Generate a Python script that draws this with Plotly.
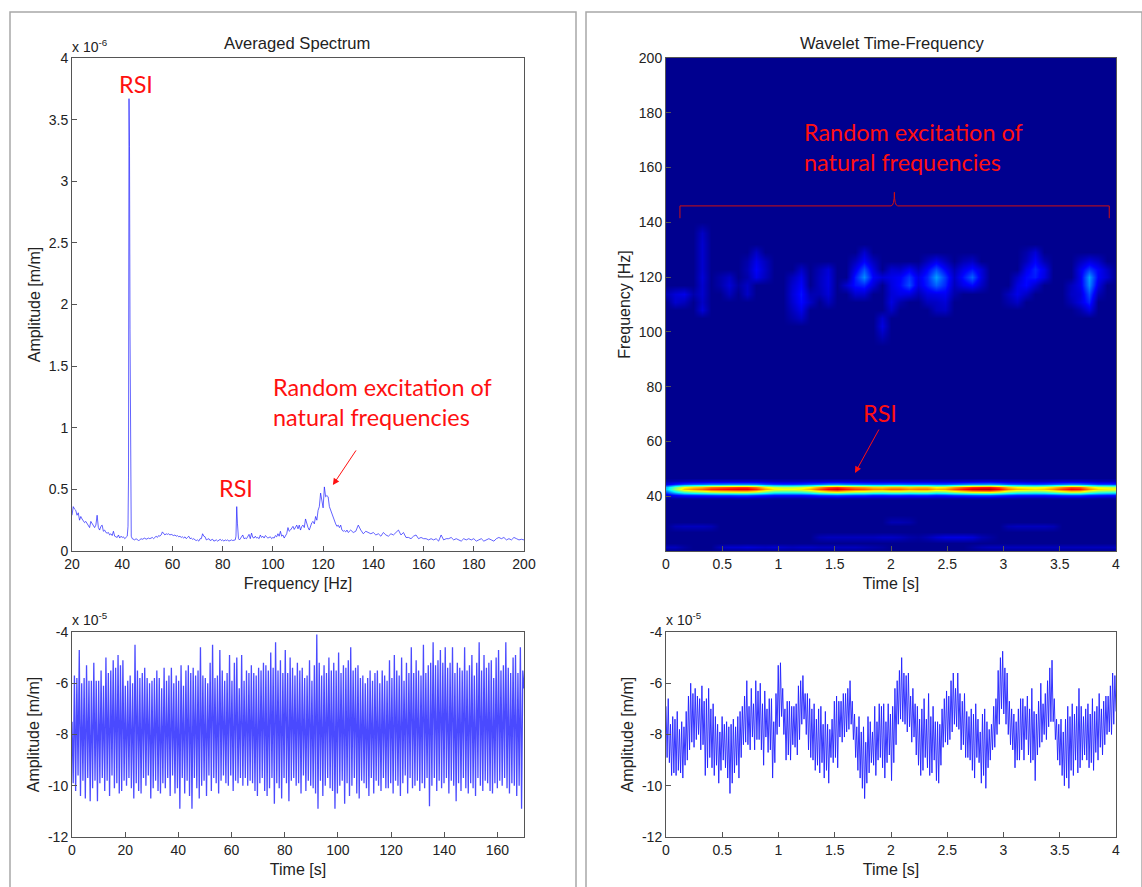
import plotly.graph_objects as go

# ---------- Averaged spectrum (units of 1e-6 m/m) ----------
SPEC_F_LOW = [20,20.5,21,21.5,22,22.5,23,23.5,24,24.5,25,25.5,26,26.5,27,27.5,28,28.5,29,29.5,30,30.5,31,31.5,32,32.5,33,33.5,34,34.5,35,35.5,36,36.5,37,37.5,38,38.5,39,39.5,40,40.5,41,41.5,42,42.3,42.5,42.7,42.9,43.1,43.3,43.6]
SPEC_A_LOW = [.29,.36,.34,.33,.29,.31,.25,.28,.26,.24,.23,.24,.22,.21,.19,.24,.22,.20,.19,.21,.29,.19,.17,.20,.21,.16,.17,.15,.145,.15,.13,.14,.125,.16,.12,.115,.11,.13,.105,.12,.11,.115,.10,.11,.12,.2,.6,3.67,3.28,1.8,.42,.12]
SPEC_F_MID = [44,44.5,45,45.5,46,46.5,47,47.5,48,48.5,49,49.5,50,50.5,51,51.5,52,52.5,53,53.5,54,54.5,55,55.5,56,56.5,57,57.5,58,58.5,59,59.5,60,60.5,61,61.5,62,62.5,63,63.5,64,64.5,65,65.5,66,66.5,67,67.5,68,68.5,69,69.5,70,70.5,71,71.5,72,72.5,73,73.5,74,74.5,75,75.5,76,76.5,77,77.5,78,78.5,79,79.5,80,80.5,81,81.5,82,82.5,83,83.5,84,84.5,85,85.3,85.6,85.9,86.3,86.7,87,87.5,88,88.5,89,89.5,90,90.5,91,91.5,92,92.5,93,93.5,94,94.5,95,95.5,96,96.5,97,97.5,98,98.5,99,99.5,100,100.5,101,101.5,102,102.5,103,103.5,104,104.5,105,105.5,106,106.5,107,107.5,108,108.5,109,109.5,110,110.5,111,111.5,112,112.5,113,113.5,114,114.5,115,115.5,116,116.5,117,117.5,118,118.5,119,119.5,120,120.5,121,121.5,122,122.5,123,123.5,124,124.5,125,125.5,126,126.5,127,127.5,128,128.5,129,129.5,130]
SPEC_A_MID = [.10,.095,.09,.10,.095,.085,.09,.10,.095,.10,.105,.095,.10,.105,.10,.105,.11,.10,.11,.12,.11,.125,.12,.13,.155,.14,.13,.14,.135,.14,.13,.135,.13,.125,.13,.12,.125,.115,.12,.11,.115,.105,.115,.10,.11,.12,.10,.105,.095,.10,.09,.085,.09,.08,.10,.10,.14,.12,.115,.09,.095,.10,.085,.09,.095,.08,.085,.09,.08,.09,.095,.085,.09,.08,.09,.085,.09,.08,.085,.09,.085,.09,.09,.12,.36,.22,.10,.09,.10,.11,.13,.10,.105,.10,.12,.135,.10,.145,.11,.105,.12,.105,.11,.10,.13,.11,.12,.105,.125,.11,.105,.11,.115,.10,.11,.105,.125,.115,.14,.12,.16,.12,.13,.105,.12,.14,.19,.16,.17,.19,.20,.175,.19,.21,.18,.21,.17,.20,.21,.19,.26,.22,.19,.17,.21,.23,.24,.22,.28,.25,.33,.36,.47,.40,.35,.52,.44,.45,.44,.36,.33,.30,.28,.25,.22,.20,.21,.19,.21,.17,.16,.165,.155,.17,.15]
SPEC_F_HIGH = [131,132,133,134,135,136,137,138,139,140,141,142,143,144,145,146,147,148,149,150,151,152,153,154,155,156,157,158,159,160,161,162,163,164,165,166,167,168,169,170,171,172,173,174,175,176,177,178,179,180,181,182,183,184,185,186,187,188,189,190,191,192,193,194,195,196,197,198,199,200]
SPEC_A_HIGH = [.17,.15,.16,.21,.17,.14,.16,.15,.14,.15,.13,.14,.12,.15,.13,.12,.14,.13,.15,.17,.13,.15,.11,.11,.10,.12,.13,.10,.11,.10,.10,.09,.10,.09,.10,.08,.13,.09,.10,.10,.11,.09,.10,.09,.08,.10,.09,.10,.09,.10,.08,.09,.10,.08,.09,.10,.09,.08,.10,.11,.10,.11,.09,.10,.09,.11,.10,.09,.095,.09]

# ---------- Long time signal, left (units of 1e-5 m/m) ----------
TS_LEFT = [-7.5,-9.9,-5.7,-10.2,-5.8,-9.6,-4.7,-10.4,-6.0,-9.8,-5.8,-10.5,-5.3,-9.7,-5.9,-10.6,-5.9,-10.1,-5.2,-9.8,-5.9,-10.6,-5.9,-9.9,-5.5,-9.7,-6.1,-10.2,-5.0,-9.8,-5.6,-10.4,
-5.5,-9.6,-5.1,-10.1,-5.4,-9.9,-4.9,-10.3,-5.3,-10.2,-5.1,-9.8,-6.1,-10.0,-5.9,-9.7,-5.7,-10.1,-6.0,-10.5,-4.5,-9.9,-5.5,-10.2,-5.8,-10.3,-5.6,-9.7,-5.4,-10.0,-5.8,-9.6,
-6.0,-10.5,-5.9,-10.1,-5.8,-9.8,-5.5,-10.2,-5.8,-10.3,-6.2,-9.9,-5.4,-10.1,-5.9,-9.7,-5.7,-10.4,-5.4,-9.6,-6.0,-10.3,-5.7,-10.1,-5.9,-10.9,-5.3,-9.7,-6.1,-10.3,-5.5,-9.8,
-5.3,-10.4,-5.6,-10.9,-5.4,-9.7,-5.7,-10.1,-5.5,-10.5,-4.6,-10.0,-5.7,-9.8,-5.8,-10.4,-6.0,-9.6,-5.2,-10.2,-4.5,-9.7,-5.8,-9.9,-5.7,-10.3,-4.7,-9.8,-5.5,-9.6,-5.9,-9.9,
-5.6,-10.0,-4.9,-9.6,-5.9,-10.2,-5.2,-9.8,-5.0,-9.9,-6.2,-9.7,-4.9,-10.0,-5.9,-9.7,-5.5,-10.0,-5.6,-9.8,-5.3,-9.9,-5.6,-10.2,-5.7,-10.4,-5.4,-9.9,-5.5,-9.7,-5.2,-10.2,
-5.3,-10.4,-5.5,-10.1,-4.8,-9.7,-5.4,-10.7,-4.4,-9.9,-5.5,-10.1,-5.1,-10.5,-5.6,-9.7,-4.7,-9.9,-5.6,-10.6,-5.0,-9.8,-5.4,-9.7,-5.7,-10.0,-5.2,-9.9,-5.5,-10.3,-5.4,-9.6,
-5.8,-10.2,-5.7,-9.8,-5.1,-10.0,-5.9,-10.1,-5.3,-10.3,-4.1,-10.9,-5.2,-9.8,-5.7,-10.4,-5.3,-10.0,-5.6,-9.7,-5.0,-10.1,-5.5,-10.2,-5.2,-10.9,-5.5,-10.3,-4.8,-10.0,-5.6,-9.8,
-5.3,-10.7,-5.4,-9.9,-5.1,-10.4,-4.6,-10.0,-5.5,-9.7,-5.4,-10.3,-5.3,-10.5,-5.8,-9.8,-5.7,-9.9,-6.0,-10.1,-5.8,-10.4,-5.5,-9.7,-5.9,-10.3,-5.6,-9.8,-5.5,-10.0,-6.0,-10.2,
-5.5,-9.7,-5.7,-10.1,-5.9,-10.1,-5.1,-9.9,-5.8,-10.3,-4.9,-9.8,-5.5,-10.0,-5.7,-10.4,-5.0,-9.9,-5.9,-9.6,-5.2,-10.3,-5.6,-9.7,-4.6,-10.1,-5.6,-10.0,-5.1,-9.8,-5.5,-10.2,
-5.7,-9.9,-4.5,-10.1,-5.6,-9.7,-5.3,-10.8,-5.2,-10.0,-4.4,-9.7,-5.3,-10.2,-5.1,-9.8,-4.7,-10.1,-5.2,-9.9,-4.6,-9.7,-5.4,-10.3,-5.2,-9.8,-4.6,-10.0,-5.6,-10.6,-5.2,-9.9,
-5.4,-10.2,-5.5,-9.7,-4.6,-10.1,-5.5,-10.3,-5.3,-9.9,-4.9,-10.1,-5.7,-10.4,-5.2,-9.7,-4.4,-10.0,-5.5,-10.2,-4.9,-9.8,-5.4,-9.9,-5.2,-10.2,-5.1,-10.3,-5.8,-9.9,-5.0,-10.1,
-4.7,-9.8,-5.5,-10.0,-5.3,-9.7,-4.4,-10.1,-5.4,-10.3,-5.6,-9.9,-5.0,-10.0,-4.9,-10.4,-5.6,-10.0,-4.6,-10.9,-5.5,-6.2]

# ---------- Short time signal, right (units of 1e-5 m/m) ----------
TS_RIGHT = [-6.9,-8.9,-6.6,-9.1,-7.6,-9.6,-7.3,-9.5,-7.4,-9.6,-7.1,-9.4,-7.8,-9.5,-7.5,-9.7,-7.7,-9.2,-7.1,-9.0,-6.5,-8.6,-6.0,-8.3,-6.4,-8.5,-6.2,-8.2,-6.5,-8.0,-6.6,-8.6,
-6.1,-8.4,-6.7,-9.6,-6.6,-9.3,-6.2,-8.9,-7.0,-9.3,-6.8,-9.6,-7.3,-9.2,-7.6,-9.9,-7.9,-9.4,-7.3,-9.0,-7.6,-9.3,-7.5,-9.7,-7.7,-10.3,-7.6,-9.9,-7.4,-9.5,-7.7,-9.2,-7.3,-9.7,
-7.1,-8.9,-6.9,-8.4,-6.5,-8.3,-5.9,-8.4,-6.9,-8.6,-6.2,-8.1,-6.8,-8.6,-5.9,-8.2,-6.3,-8.2,-6.0,-8.6,-6.8,-9.2,-6.3,-8.1,-7.0,-8.7,-6.6,-8.6,-6.6,-9.7,-7.5,-9.1,
-6.4,-8.0,-5.3,-7.7,-5.2,-7.3,-6.2,-8.0,-7.0,-9.0,-6.7,-8.8,-6.7,-9.0,-6.9,-8.4,-6.9,-8.5,-6.8,-8.8,-6.1,-8.2,-5.9,-7.6,-5.7,-7.4,-6.4,-8.0,-6.4,-8.6,-6.6,-8.9,
-7.0,-9.0,-6.8,-9.4,-7.4,-9.2,-7.0,-9.5,-6.9,-9.1,-7.6,-9.7,-7.1,-9.4,-7.6,-9.9,-7.8,-8.9,-7.4,-9.1,-6.7,-8.9,-6.5,-9.3,-6.7,-8.1,-6.7,-8.3,-6.4,-8.1,-6.4,-7.9,
-6.2,-7.8,-5.9,-7.6,-6.7,-8.2,-7.2,-8.9,-7.7,-9.4,-7.3,-9.7,-7.9,-10.1,-7.7,-10.5,-8.3,-9.9,-7.3,-9.5,-7.5,-9.1,-7.9,-9.2,-6.9,-9.6,-7.5,-9.0,-6.8,-8.9,-6.9,-9.3,
-6.8,-9.7,-7.5,-9.1,-6.8,-8.8,-7.2,-9.8,-6.9,-9.1,-6.2,-8.4,-5.9,-7.6,-5.5,-7.4,-5.0,-7.5,-5.6,-7.6,-5.7,-7.9,-5.6,-7.7,-6.5,-8.3,-6.2,-8.1,
-6.8,-8.8,-6.9,-9.2,-7.4,-9.6,-7.0,-9.4,-6.6,-8.9,-7.4,-9.3,-6.4,-9.6,-7.3,-9.5,-6.9,-9.0,-7.5,-9.8,-7.5,-9.9,-7.6,-9.2,-7.0,-8.5,-6.6,-8.3,-6.3,-8.4,-6.5,-8.2,-5.9,-7.9,-5.6,-7.6,
-6.2,-7.7,-5.6,-7.8,-6.4,-8.6,-6.7,-8.4,-6.4,-8.9,-7.1,-8.9,-7.3,-9.0,-7.0,-9.4,-7.2,-9.7,-6.8,-8.9,-7.4,-9.1,-7.9,-9.9,-7.2,-9.6,-7.0,-10.1,-7.5,-9.3,-7.8,-9.0,
-7.6,-8.6,-6.9,-8.5,-6.6,-8.0,-5.5,-7.6,-5.0,-7.0,-4.75,-7.2,-5.4,-7.6,-5.6,-8.0,-6.7,-8.4,-7.0,-8.6,-7.2,-9.3,-7.5,-9.0,-7.0,-9.0,-6.6,-8.6,-6.6,-9.0,-6.9,-8.2,
-6.5,-8.8,-7.0,-9.1,-6.2,-9.0,-7.1,-9.8,-7.2,-8.8,-6.7,-8.5,-6.0,-8.3,-6.8,-8.0,-6.4,-8.2,-5.9,-7.7,-5.4,-7.5,-5.1,-7.5,-6.6,-8.2,-7.4,-9.0,-7.6,-9.2,-7.4,-9.6,
-7.9,-10.0,-7.4,-9.7,-6.9,-10.1,-7.3,-9.4,-6.8,-9.6,-7.2,-9.0,-6.9,-9.5,-6.2,-9.3,-6.9,-9.0,-7.3,-8.8,-7.0,-9.0,-6.8,-9.3,-7.2,-9.1,-6.6,-9.4,-7.1,-8.7,-6.9,-9.0,-6.4,-8.5,-7.0,-8.8,-6.7,-8.4,-6.5,-8.0,-6.5,-7.9,-6.1,-8.0,-5.6,-7.6,-5.7,-7.1]

# ---------- Wavelet map: time columns, frequency rows, values in percent ----------
HEAT_TIME = [i * 0.08 for i in range(51)]
HEAT_FREQ = [20,21.5,23,25,27,29,30.5,33,38.5,39.5,40.5,41.5,42.5,43.5,44.5,45.5,46.5,95,99,102,105,108,111,114,117,120,123,126,129,132,136,140,200]
BAND_425 = [32,52,68,74,78,84,86,88,90,90,84,72,64,62,62,64,70,80,88,92,86,82,80,75,74,78,78,74,76,76,70,72,80,86,92,94,95,88,76,70,68,66,68,74,82,88,86,74,66,64,62]
BAND_435 = [30,48,62,67,70,76,78,80,82,82,76,65,58,56,56,58,63,72,80,83,78,74,72,68,67,70,70,67,69,69,63,65,72,78,83,85,86,80,69,63,61,60,62,67,74,80,78,67,60,58,56]
BAND_415 = [20,34,44,48,51,55,57,58,59,59,55,48,42,41,41,42,46,53,58,61,57,54,53,50,49,51,51,49,50,50,46,48,53,57,61,62,63,58,50,46,45,44,45,49,54,58,57,49,44,42,41]
BAND_445 = [9,15,19,21,22,24,24,25,25,25,24,20,18,17,17,18,20,22,25,26,24,23,22,21,21,22,22,21,21,21,20,20,22,24,26,26,27,25,21,20,19,18,19,21,23,25,24,21,18,18,17]
BAND_405 = [8,12,15,16,17,18,19,19,20,20,18,16,14,14,14,14,15,18,19,20,19,18,18,16,16,17,17,16,17,17,15,16,18,19,20,21,21,19,17,15,15,15,15,16,18,19,19,16,15,14,14]
BAND_455 = [3,4,5,6,6,7,7,7,7,7,7,6,5,5,5,5,6,6,7,7,7,7,6,6,6,6,6,6,6,6,6,6,6,7,7,8,8,7,6,6,5,5,5,6,7,7,7,6,5,5,5]
BAND_395 = [2,3,3,4,4,4,4,4,5,5,4,4,3,3,3,3,4,4,4,5,4,4,4,4,4,4,4,4,4,4,4,4,4,4,5,5,5,4,4,4,3,3,3,4,4,4,4,4,3,3,3]
LOW_215 = [5,5,2,0,0,0,5,7,7,8,7,6,7,6,5,6,6,5,5,5,5,5,4,3,2,0,0,0,0,0,0,0,0,0,2,4,5,5,5,5,5,5,5,5,5,5,5,5,5,5,5]
LOW_25 = {17:4,18:5,19:5,20:5,21:5,22:5,23:5,24:6,25:6,26:5,27:3,28:2,29:4,30:7,31:9,32:9,33:9,34:8,35:4,36:2}
LOW_29 = {1:4,2:5,3:5,4:5,5:4,38:4,39:5,40:5,41:5,42:5,43:4}
LOW_305 = {25:4,26:4,27:3}
SPARSE_ROWS = {
    136:{4:6}, 132:{4:7},
    129:{4:7,10:6,22:7,41:8,40:3},
    126:{4:7,9:3,10:10,11:5,21:5,22:12,23:5,29:5,30:10,31:5,33:4,34:6,40:5,41:12,42:4,46:5,47:9,48:6},
    123:{4:7,9:4,10:12,11:6,15:6,17:4,18:8,21:10,22:20,23:9,25:7,26:6,27:11,28:5,29:12,30:20,31:12,32:4,33:10,34:14,35:8,40:10,41:16,42:10,46:10,47:18,48:12,49:6},
    120:{4:8,7:6,6:3,9:3,10:10,11:5,14:5,15:10,17:5,18:9,21:15,22:26,23:12,24:8,25:10,26:12,27:18,28:10,29:16,30:28,31:18,32:6,33:14,34:22,35:9,39:6,40:13,41:15,42:9,46:10,47:28,48:12,49:7},
    117:{4:7,7:8,6:3,9:6,8:2,14:7,15:12,17:5,18:9,20:7,21:14,22:16,23:8,25:9,26:13,27:20,28:9,29:15,30:22,31:16,32:5,33:10,34:13,35:6,39:9,40:13,41:7,45:5,46:10,47:26,48:9},
    114:{1:8,2:10,0:4,3:3,4:7,7:5,9:6,14:8,15:14,16:4,17:4,18:8,21:7,22:7,25:8,26:10,27:9,28:4,29:9,30:10,31:11,32:3,38:5,39:10,40:6,45:6,46:8,47:20,48:4},
    111:{1:7,2:5,4:6,14:7,15:13,16:6,18:5,25:9,26:3,29:5,30:6,31:8,38:3,39:6,45:4,46:9,47:16},
    108:{4:8,14:5,15:10,25:6,30:5,31:6,46:3,47:9},
    105:{14:3,15:6,24:7}, 102:{24:9}, 99:{24:5},
}

def cells(sparse):
    return [sparse.get(i, 0) for i in range(len(HEAT_TIME))]

full_rows = {21.5:LOW_215, 25:cells(LOW_25), 29:cells(LOW_29), 30.5:cells(LOW_305),
             39.5:BAND_395, 40.5:BAND_405, 41.5:BAND_415, 42.5:BAND_425, 43.5:BAND_435,
             44.5:BAND_445, 45.5:BAND_455}
heat_z = []
for f in HEAT_FREQ:
    if f in full_rows:
        heat_z.append(full_rows[f])
    else:
        heat_z.append(cells(SPARSE_ROWS.get(f, {})))

JET = [[0,"#00008f"],[.125,"#0000ff"],[.375,"#00ffff"],[.625,"#ffff00"],[.875,"#ff0000"],[1,"#800000"]]
LINE_BLUE = "#2020ff"
AX = "#555555"
TXT = "#222222"
FONT = "Liberation Sans"
RED = "#ff1010"
W, H = 1142, 887

fig = go.Figure()
fig.add_trace(go.Scatter(x=SPEC_F_LOW+SPEC_F_MID+SPEC_F_HIGH, y=SPEC_A_LOW+SPEC_A_MID+SPEC_A_HIGH, mode="lines",
                         line=dict(color=LINE_BLUE, width=0.7), xaxis="x", yaxis="y", showlegend=False))
fig.add_trace(go.Scatter(x=[170*i/(len(TS_LEFT)-1) for i in range(len(TS_LEFT))], y=TS_LEFT, mode="lines",
                         line=dict(color="#4a4aff", width=1.3), xaxis="x2", yaxis="y2", showlegend=False))
fig.add_trace(go.Heatmap(x=HEAT_TIME, y=HEAT_FREQ, z=heat_z, zmin=0, zmax=100, colorscale=JET, zsmooth="best",
                         showscale=False, xaxis="x3", yaxis="y3"))
fig.add_trace(go.Scatter(x=[4*i/(len(TS_RIGHT)-1) for i in range(len(TS_RIGHT))], y=TS_RIGHT, mode="lines",
                         line=dict(color=LINE_BLUE, width=0.9), xaxis="x4", yaxis="y4", showlegend=False))

def axis(dom, rng, vals, texts, title=None, anchor=None, standoff=4):
    return dict(domain=dom, range=rng, tickmode="array", tickvals=vals, ticktext=texts, ticks="inside", ticklen=5,
                tickcolor=AX, tickwidth=1, showline=True, linecolor=AX, linewidth=1, mirror=True, showgrid=False,
                zeroline=False, anchor=anchor, tickfont=dict(family=FONT, size=14, color=TXT),
                title=dict(text=title, font=dict(family=FONT, size=16, color=TXT), standoff=standoff))

dxl = [72/W, 524/W]
dxr = [666/W, 1116/W]
dyt = [1-551/H, 1-58/H]
dyb = [1-837/H, 1-632/H]
t4 = [0,.5,1,1.5,2,2.5,3,3.5,4]
t4s = ["0","0.5","1","1.5","2","2.5","3","3.5","4"]
y12 = [-12,-10,-8,-6,-4]
y12s = [str(v) for v in y12]
f200 = [20,40,60,80,100,120,140,160,180,200]
t170 = [0,20,40,60,80,100,120,140,160]
fig.update_layout(
    width=W, height=H, margin=dict(l=0, r=0, t=0, b=0, autoexpand=False), paper_bgcolor="white", plot_bgcolor="white",
    xaxis=axis(dxl, [20,200], f200, [str(v) for v in f200], "Frequency [Hz]", "y", 7),
    yaxis=axis(dyt, [0,4], [0,.5,1,1.5,2,2.5,3,3.5,4], ["0","0.5","1","1.5","2","2.5","3","3.5","4"], "Amplitude [m/m]", "x"),
    xaxis2=axis(dxl, [0,170], t170, [str(v) for v in t170], "Time [s]", "y2", 7),
    yaxis2=axis(dyb, [-12,-4], y12, y12s, "Amplitude [m/m]", "x2"),
    xaxis3=axis(dxr, [0,4], t4, t4s, "Time [s]", "y3", 7),
    yaxis3=axis(dyt, [20,200], f200[1:], [str(v) for v in f200[1:]], "Frequency [Hz]", "x3"),
    xaxis4=axis(dxr, [0,4], t4, t4s, "Time [s]", "y4", 7),
    yaxis4=axis(dyb, [-12,-4], y12, y12s, "Amplitude [m/m]", "x4"),
)

def label(x, y, text, xref, yref, size=23.4, anchor="center"):
    fig.add_annotation(x=x, y=y, xref=xref, yref=yref, text=text, showarrow=False, xanchor=anchor,
                       font=dict(family="Lato", size=size, color=RED), align="left")

def plain(px, py, text, size=16.6, anchor="center"):
    fig.add_annotation(x=px/W, y=1-py/H, xref="paper", yref="paper", text=text, showarrow=False, xanchor=anchor,
                       yanchor="middle", font=dict(family=FONT, size=size, color=TXT))

plain(297, 43, "Averaged Spectrum")
plain(892, 43, "Wavelet Time-Frequency")
plain(70, 46, "x 10<sup>-6</sup>", size=14, anchor="left")
plain(70, 619, "x 10<sup>-5</sup>", size=14, anchor="left")
plain(664, 619, "x 10<sup>-5</sup>", size=14, anchor="left")

label(45.5, 3.79, "RSI", "x", "y")
label(85.3, .51, "RSI", "x", "y")
label(99.3, 1.206, "Random excitation of<br>natural frequencies", "x", "y", anchor="left")
label(1.205, 167.5, "Random excitation of<br>natural frequencies", "x3", "y3", anchor="left")
label(1.9, 70.5, "RSI", "x3", "y3")

for (xe, ye, xs, ys, xr, yr) in [(123.9, .535, 133.5, .828, "x", "y"), (1.68, 48.5, 1.90, 64.9, "x3", "y3")]:
    fig.add_annotation(x=xe, y=ye, ax=xs, ay=ys, xref=xr, yref=yr, axref=xr, ayref=yr, text="", showarrow=True,
                       arrowhead=2, arrowsize=1.3, arrowwidth=1, arrowcolor=RED)

# bracket over the upper wavelet region
fig.add_shape(type="path", xref="x3", yref="y3", line=dict(color="#d01010", width=1),
              path="M 0.124 141.5 L 0.124 146 L 2.0 146 Q 2.03 146 2.03 151 Q 2.03 146 2.06 146 L 3.94 146 L 3.94 141.5")

# panel frames
for xs in [(10, 576), (586, 1142)]:
    fig.add_shape(type="path", xref="paper", yref="paper", line=dict(color="#a8a8a8", width=1.5),
                  path=f"M {xs[0]/W} 0 L {xs[0]/W} {1-12/H} L {xs[1]/W} {1-12/H} L {xs[1]/W} 0")

fig.write_html("out.html", post_script="document.body.style.margin='0';", config=dict(displayModeBar=False))
